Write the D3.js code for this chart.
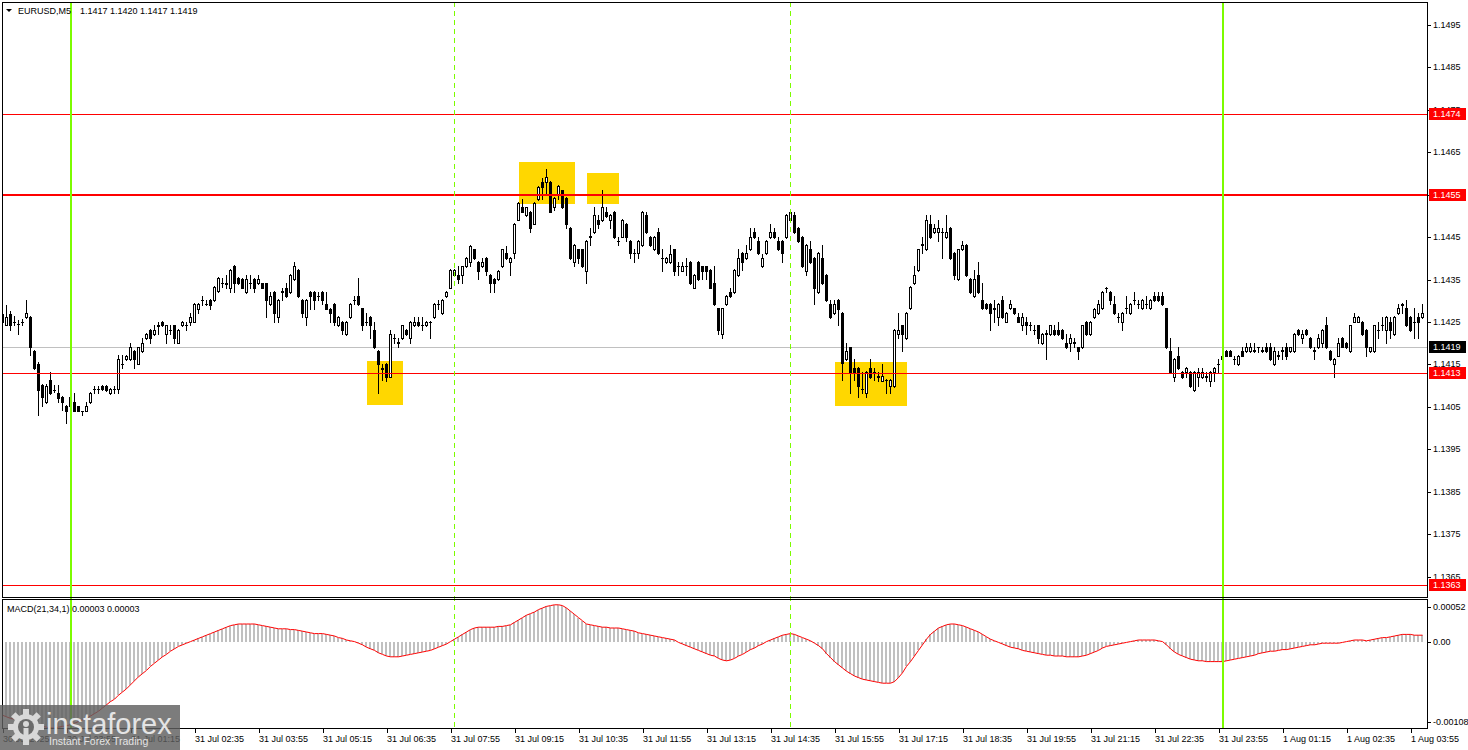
<!DOCTYPE html>
<html><head><meta charset="utf-8">
<title>EURUSD M5</title>
<script src="https://cdn.jsdelivr.net/npm/d3@7"></script>
<style>
html,body{margin:0;padding:0;background:#fff;}
svg{display:block;font-family:"Liberation Sans",Arial,sans-serif;}
</style></head><body>
<svg id="c" width="1468" height="750"></svg>
<script>
// ---------------- DATA ----------------
const symbolTitle = "EURUSD,M5";
const titleValues = "1.1417 1.1420 1.1417 1.1419";
const macdTitle = "MACD(21,34,1) 0.00003 0.00003";

const opens = [1.14270,1.14242,1.14270,1.14251,1.14246,1.14251,1.14261,1.14261,1.14182,1.14151,
1.14102,1.14061,1.14114,1.14090,1.14082,1.14073,1.14052,1.14051,1.14061,1.14051,
1.14040,1.14041,1.14061,1.14092,1.14092,1.14100,1.14100,1.14082,1.14092,1.14092,
1.14151,1.14162,1.14162,1.14182,1.14151,1.14182,1.14212,1.14231,1.14222,1.14242,
1.14251,1.14222,1.14231,1.14242,1.14201,1.14242,1.14242,1.14251,1.14251,1.14281,
1.14302,1.14292,1.14302,1.14302,1.14322,1.14341,1.14341,1.14331,1.14382,1.14353,
1.14351,1.14320,1.14341,1.14351,1.14341,1.14341,1.14341,1.14292,1.14320,1.14261,
1.14322,1.14331,1.14320,1.14351,1.14373,1.14302,1.14261,1.14320,1.14320,1.14311,
1.14320,1.14292,1.14281,1.14292,1.14242,1.14251,1.14222,1.14261,1.14302,1.14311,
1.14282,1.14251,1.14261,1.14231,1.14182,1.14141,1.14151,1.14121,1.14212,1.14201,
1.14212,1.14231,1.14212,1.14242,1.14251,1.14242,1.14242,1.14251,1.14261,1.14292,
1.14271,1.14311,1.14331,1.14361,1.14361,1.14361,1.14381,1.14391,1.14421,1.14391,
1.14381,1.14400,1.14361,1.14351,1.14351,1.14381,1.14412,1.14391,1.14412,1.14491,
1.14520,1.14502,1.14510,1.14481,1.14539,1.14581,1.14581,1.14581,1.14520,1.14549,
1.14560,1.14542,1.14471,1.14391,1.14421,1.14421,1.14371,1.14451,1.14462,1.14491,
1.14491,1.14510,1.14491,1.14510,1.14441,1.14451,1.14481,1.14441,1.14412,1.14412,
1.14432,1.14502,1.14451,1.14421,1.14462,1.14400,1.14391,1.14391,1.14421,1.14381,
1.14371,1.14381,1.14391,1.14331,1.14391,1.14381,1.14381,1.14373,1.14341,1.14282,
1.14222,1.14292,1.14320,1.14320,1.14361,1.14412,1.14400,1.14421,1.14462,1.14441,
1.14381,1.14412,1.14451,1.14462,1.14441,1.14441,1.14451,1.14491,1.14502,1.14471,
1.14451,1.14371,1.14421,1.14400,1.14320,1.14400,1.14361,1.14292,1.14271,1.14302,
1.14271,1.14162,1.14190,1.14141,1.14141,1.14092,1.14082,1.14141,1.14132,1.14121,
1.14112,1.14114,1.14100,1.14100,1.14222,1.14242,1.14212,1.14282,1.14341,1.14373,
1.14432,1.14421,1.14481,1.14462,1.14462,1.14462,1.14451,1.14471,1.14412,1.14351,
1.14421,1.14432,1.14351,1.14311,1.14361,1.14302,1.14292,1.14292,1.14282,1.14261,
1.14302,1.14251,1.14282,1.14282,1.14261,1.14242,1.14251,1.14242,1.14231,1.14242,
1.14201,1.14222,1.14222,1.14231,1.14231,1.14231,1.14201,1.14201,1.14201,1.14190,
1.14190,1.14251,1.14222,1.14261,1.14271,1.14282,1.14330,1.14320,1.14292,1.14261,
1.14251,1.14282,1.14271,1.14302,1.14292,1.14282,1.14292,1.14282,1.14311,1.14311,
1.14311,1.14282,1.14182,1.14121,1.14171,1.14132,1.14132,1.14132,1.14090,1.14121,
1.14121,1.14121,1.14112,1.14132,1.14151,1.14162,1.14182,1.14182,1.14162,1.14151,
1.14182,1.14182,1.14182,1.14182,1.14190,1.14182,1.14190,1.14190,1.14151,1.14171,
1.14182,1.14190,1.14182,1.14182,1.14231,1.14212,1.14231,1.14212,1.14182,1.14190,
1.14201,1.14242,1.14182,1.14151,1.14171,1.14212,1.14201,1.14182,1.14251,1.14251,
1.14251,1.14231,1.14182,1.14182,1.14231,1.14242,1.14231,1.14251,1.14222,1.14271,
1.14292,1.14282,1.14261,1.14251,1.14261,1.14261];

const highs = [1.14285,1.14290,1.14275,1.14263,1.14255,1.14257,1.14302,1.14263,1.14185,1.14155,
1.14105,1.14103,1.14132,1.14102,1.14102,1.14075,1.14055,1.14075,1.14082,1.14052,
1.14040,1.14061,1.14084,1.14100,1.14100,1.14101,1.14101,1.14094,1.14100,1.14172,
1.14172,1.14173,1.14201,1.14185,1.14192,1.14212,1.14224,1.14233,1.14242,1.14251,
1.14253,1.14244,1.14242,1.14244,1.14233,1.14253,1.14251,1.14271,1.14294,1.14294,
1.14311,1.14302,1.14304,1.14335,1.14355,1.14353,1.14361,1.14375,1.14384,1.14355,
1.14353,1.14361,1.14361,1.14353,1.14361,1.14343,1.14343,1.14320,1.14322,1.14304,
1.14331,1.14341,1.14363,1.14391,1.14375,1.14304,1.14304,1.14322,1.14322,1.14320,
1.14322,1.14320,1.14283,1.14294,1.14263,1.14253,1.14253,1.14294,1.14311,1.14353,
1.14284,1.14271,1.14263,1.14251,1.14184,1.14151,1.14153,1.14231,1.14222,1.14212,
1.14244,1.14233,1.14253,1.14261,1.14261,1.14261,1.14253,1.14253,1.14294,1.14302,
1.14304,1.14322,1.14375,1.14375,1.14381,1.14383,1.14402,1.14432,1.14423,1.14393,
1.14400,1.14402,1.14363,1.14353,1.14373,1.14423,1.14430,1.14402,1.14483,1.14532,
1.14539,1.14522,1.14512,1.14532,1.14571,1.14589,1.14610,1.14583,1.14544,1.14573,
1.14562,1.14544,1.14473,1.14434,1.14423,1.14423,1.14443,1.14471,1.14520,1.14502,
1.14560,1.14520,1.14504,1.14512,1.14451,1.14493,1.14483,1.14443,1.14421,1.14443,
1.14512,1.14510,1.14453,1.14453,1.14471,1.14421,1.14402,1.14432,1.14423,1.14391,
1.14391,1.14400,1.14393,1.14363,1.14393,1.14383,1.14383,1.14375,1.14381,1.14284,
1.14284,1.14313,1.14331,1.14375,1.14421,1.14414,1.14432,1.14471,1.14471,1.14451,
1.14410,1.14443,1.14481,1.14471,1.14451,1.14443,1.14504,1.14512,1.14510,1.14473,
1.14453,1.14434,1.14441,1.14402,1.14414,1.14432,1.14363,1.14302,1.14302,1.14304,
1.14273,1.14201,1.14192,1.14162,1.14143,1.14132,1.14134,1.14162,1.14141,1.14132,
1.14151,1.14115,1.14116,1.14233,1.14271,1.14244,1.14273,1.14335,1.14381,1.14423,
1.14451,1.14502,1.14502,1.14481,1.14491,1.14471,1.14502,1.14473,1.14414,1.14423,
1.14441,1.14434,1.14353,1.14373,1.14391,1.14341,1.14294,1.14294,1.14302,1.14294,
1.14311,1.14273,1.14302,1.14284,1.14271,1.14271,1.14261,1.14251,1.14242,1.14244,
1.14224,1.14231,1.14244,1.14242,1.14251,1.14233,1.14222,1.14222,1.14212,1.14192,
1.14244,1.14253,1.14253,1.14283,1.14302,1.14322,1.14332,1.14322,1.14311,1.14271,
1.14273,1.14311,1.14294,1.14320,1.14302,1.14304,1.14311,1.14304,1.14320,1.14320,
1.14320,1.14284,1.14212,1.14164,1.14190,1.14134,1.14143,1.14134,1.14134,1.14141,
1.14141,1.14132,1.14134,1.14143,1.14162,1.14182,1.14184,1.14184,1.14171,1.14173,
1.14190,1.14201,1.14201,1.14201,1.14191,1.14190,1.14201,1.14201,1.14190,1.14182,
1.14190,1.14201,1.14192,1.14224,1.14233,1.14231,1.14233,1.14214,1.14190,1.14222,
1.14233,1.14261,1.14184,1.14164,1.14212,1.14214,1.14203,1.14244,1.14271,1.14263,
1.14253,1.14233,1.14192,1.14244,1.14251,1.14261,1.14263,1.14261,1.14263,1.14292,
1.14294,1.14302,1.14263,1.14282,1.14271,1.14292];

const lows = [1.14195,1.14242,1.14230,1.14243,1.14222,1.14242,1.14260,1.14172,1.14140,1.14031,
1.14052,1.14060,1.14080,1.14085,1.14062,1.14043,1.14011,1.14045,1.14040,1.14040,
1.14030,1.14040,1.14060,1.14082,1.14082,1.14090,1.14088,1.14080,1.14082,1.14082,
1.14141,1.14160,1.14160,1.14141,1.14150,1.14180,1.14210,1.14201,1.14220,1.14222,
1.14240,1.14201,1.14222,1.14201,1.14200,1.14240,1.14231,1.14242,1.14250,1.14271,
1.14290,1.14290,1.14281,1.14300,1.14320,1.14333,1.14330,1.14320,1.14320,1.14340,
1.14330,1.14319,1.14331,1.14320,1.14340,1.14330,1.14261,1.14290,1.14251,1.14251,
1.14302,1.14310,1.14319,1.14350,1.14310,1.14261,1.14242,1.14281,1.14281,1.14302,
1.14292,1.14280,1.14251,1.14242,1.14240,1.14222,1.14220,1.14260,1.14292,1.14290,
1.14231,1.14242,1.14212,1.14189,1.14082,1.14114,1.14112,1.14120,1.14201,1.14190,
1.14210,1.14220,1.14201,1.14240,1.14240,1.14231,1.14240,1.14212,1.14260,1.14281,
1.14270,1.14310,1.14330,1.14360,1.14341,1.14341,1.14380,1.14381,1.14399,1.14351,
1.14380,1.14361,1.14320,1.14320,1.14350,1.14380,1.14399,1.14361,1.14400,1.14490,
1.14508,1.14500,1.14462,1.14480,1.14537,1.14539,1.14550,1.14509,1.14515,1.14539,
1.14518,1.14471,1.14399,1.14381,1.14390,1.14379,1.14341,1.14432,1.14460,1.14471,
1.14489,1.14498,1.14471,1.14449,1.14432,1.14450,1.14441,1.14400,1.14391,1.14400,
1.14430,1.14460,1.14430,1.14420,1.14410,1.14371,1.14389,1.14389,1.14361,1.14361,
1.14369,1.14361,1.14339,1.14329,1.14349,1.14351,1.14351,1.14329,1.14290,1.14222,
1.14212,1.14290,1.14309,1.14318,1.14359,1.14373,1.14398,1.14419,1.14449,1.14410,
1.14379,1.14410,1.14449,1.14449,1.14419,1.14391,1.14449,1.14489,1.14460,1.14439,
1.14379,1.14361,1.14389,1.14292,1.14318,1.14339,1.14300,1.14259,1.14269,1.14242,
1.14114,1.14160,1.14082,1.14114,1.14073,1.14082,1.14073,1.14119,1.14114,1.14112,
1.14110,1.14082,1.14082,1.14098,1.14212,1.14182,1.14210,1.14280,1.14339,1.14371,
1.14412,1.14419,1.14449,1.14460,1.14441,1.14400,1.14449,1.14398,1.14351,1.14349,
1.14419,1.14359,1.14318,1.14309,1.14318,1.14280,1.14280,1.14231,1.14251,1.14242,
1.14259,1.14249,1.14280,1.14269,1.14249,1.14231,1.14222,1.14231,1.14222,1.14201,
1.14199,1.14162,1.14220,1.14220,1.14220,1.14210,1.14189,1.14182,1.14190,1.14162,
1.14188,1.14220,1.14220,1.14259,1.14269,1.14280,1.14320,1.14292,1.14269,1.14251,
1.14231,1.14271,1.14269,1.14292,1.14282,1.14280,1.14282,1.14280,1.14300,1.14300,
1.14290,1.14188,1.14130,1.14112,1.14139,1.14119,1.14121,1.14098,1.14088,1.14100,
1.14119,1.14112,1.14100,1.14112,1.14132,1.14160,1.14169,1.14169,1.14151,1.14149,
1.14169,1.14180,1.14180,1.14180,1.14180,1.14180,1.14180,1.14160,1.14149,1.14162,
1.14162,1.14162,1.14180,1.14180,1.14220,1.14201,1.14220,1.14188,1.14162,1.14188,
1.14190,1.14188,1.14160,1.14121,1.14169,1.14190,1.14188,1.14180,1.14249,1.14249,
1.14220,1.14171,1.14180,1.14180,1.14212,1.14231,1.14201,1.14212,1.14220,1.14269,
1.14271,1.14240,1.14229,1.14212,1.14212,1.14259];

const closes = [1.14251,1.14261,1.14242,1.14250,1.14245,1.14250,1.14271,1.14190,1.14141,1.14090,
1.14073,1.14100,1.14082,1.14089,1.14070,1.14061,1.14041,1.14073,1.14041,1.14041,
1.14040,1.14051,1.14082,1.14091,1.14093,1.14092,1.14090,1.14092,1.14093,1.14162,
1.14150,1.14171,1.14190,1.14162,1.14190,1.14201,1.14222,1.14212,1.14231,1.14241,
1.14242,1.14242,1.14232,1.14212,1.14231,1.14251,1.14243,1.14261,1.14292,1.14292,
1.14303,1.14293,1.14290,1.14333,1.14353,1.14342,1.14340,1.14373,1.14341,1.14341,
1.14331,1.14351,1.14342,1.14331,1.14351,1.14331,1.14302,1.14311,1.14271,1.14302,
1.14321,1.14311,1.14361,1.14381,1.14311,1.14271,1.14302,1.14311,1.14302,1.14312,
1.14302,1.14281,1.14271,1.14251,1.14261,1.14231,1.14251,1.14292,1.14301,1.14292,
1.14242,1.14250,1.14242,1.14190,1.14151,1.14140,1.14121,1.14222,1.14213,1.14202,
1.14242,1.14222,1.14251,1.14251,1.14242,1.14243,1.14251,1.14250,1.14292,1.14293,
1.14302,1.14320,1.14373,1.14373,1.14351,1.14381,1.14400,1.14430,1.14400,1.14371,
1.14391,1.14371,1.14341,1.14341,1.14371,1.14421,1.14400,1.14400,1.14481,1.14530,
1.14510,1.14520,1.14471,1.14530,1.14569,1.14569,1.14591,1.14510,1.14542,1.14571,
1.14520,1.14481,1.14400,1.14432,1.14400,1.14381,1.14441,1.14452,1.14502,1.14481,
1.14520,1.14500,1.14502,1.14451,1.14442,1.14491,1.14451,1.14412,1.14413,1.14441,
1.14510,1.14462,1.14432,1.14451,1.14412,1.14401,1.14400,1.14410,1.14371,1.14382,
1.14381,1.14382,1.14341,1.14361,1.14351,1.14371,1.14371,1.14331,1.14292,1.14231,
1.14282,1.14311,1.14311,1.14373,1.14400,1.14391,1.14412,1.14451,1.14451,1.14412,
1.14400,1.14441,1.14462,1.14451,1.14421,1.14412,1.14502,1.14510,1.14462,1.14441,
1.14381,1.14432,1.14391,1.14331,1.14412,1.14341,1.14302,1.14261,1.14292,1.14281,
1.14153,1.14182,1.14132,1.14132,1.14100,1.14093,1.14132,1.14121,1.14133,1.14122,
1.14122,1.14113,1.14114,1.14231,1.14231,1.14222,1.14271,1.14333,1.14361,1.14421,
1.14433,1.14491,1.14451,1.14471,1.14471,1.14463,1.14462,1.14400,1.14361,1.14421,
1.14432,1.14361,1.14320,1.14351,1.14320,1.14282,1.14282,1.14271,1.14281,1.14292,
1.14261,1.14271,1.14292,1.14271,1.14251,1.14261,1.14242,1.14243,1.14232,1.14212,
1.14222,1.14223,1.14242,1.14222,1.14222,1.14212,1.14190,1.14212,1.14202,1.14182,
1.14242,1.14222,1.14251,1.14281,1.14292,1.14320,1.14331,1.14302,1.14271,1.14262,
1.14271,1.14283,1.14292,1.14303,1.14293,1.14302,1.14293,1.14302,1.14302,1.14302,
1.14292,1.14190,1.14132,1.14162,1.14141,1.14121,1.14141,1.14100,1.14132,1.14132,
1.14132,1.14122,1.14132,1.14141,1.14152,1.14171,1.14171,1.14171,1.14163,1.14171,
1.14171,1.14190,1.14190,1.14183,1.14190,1.14183,1.14182,1.14162,1.14182,1.14172,
1.14183,1.14171,1.14190,1.14222,1.14222,1.14222,1.14222,1.14190,1.14183,1.14212,
1.14231,1.14190,1.14162,1.14162,1.14201,1.14192,1.14190,1.14242,1.14261,1.14261,
1.14222,1.14190,1.14190,1.14242,1.14232,1.14243,1.14261,1.14231,1.14261,1.14282,
1.14291,1.14242,1.14231,1.14250,1.14251,1.14271];

const macdValues = [-92e-5,-94e-5,-96e-5,-97e-5,-98e-5,-99e-5,-100e-5,-101e-5,-103e-5,-105e-5,
-106e-5,-107e-5,-108e-5,-108e-5,-107e-5,-106e-5,-105e-5,-104e-5,-102e-5,-100e-5,
-98e-5,-96e-5,-93e-5,-90e-5,-87e-5,-83e-5,-79e-5,-75e-5,-72e-5,-67e-5,
-63e-5,-59e-5,-54e-5,-49e-5,-44e-5,-40e-5,-36e-5,-31e-5,-27e-5,-23e-5,
-19e-5,-16e-5,-12e-5,-9e-5,-6e-5,-4e-5,-2e-5,0,2e-5,4e-5,
6e-5,8e-5,10e-5,12e-5,14e-5,16e-5,18e-5,20e-5,21e-5,22e-5,
22e-5,22e-5,22e-5,22e-5,21e-5,20e-5,19e-5,18e-5,17e-5,16e-5,
16e-5,16e-5,15e-5,15e-5,14e-5,13e-5,12e-5,11e-5,10e-5,10e-5,
10e-5,9e-5,8e-5,7e-5,5e-5,4e-5,2e-5,1e-5,0,-2e-5,
-4e-5,-7e-5,-9e-5,-11e-5,-14e-5,-16e-5,-18e-5,-19e-5,-19e-5,-19e-5,
-18e-5,-17e-5,-16e-5,-15e-5,-14e-5,-13e-5,-12e-5,-11e-5,-9e-5,-7e-5,
-5e-5,-3e-5,0,3e-5,6e-5,9e-5,12e-5,15e-5,17e-5,18e-5,
18e-5,18e-5,18e-5,18e-5,19e-5,19e-5,20e-5,21e-5,24e-5,27e-5,
30e-5,33e-5,35e-5,37e-5,40e-5,42e-5,44e-5,45e-5,46e-5,46e-5,
45e-5,42e-5,38e-5,34e-5,30e-5,26e-5,22e-5,21e-5,20e-5,19e-5,
18e-5,18e-5,17e-5,17e-5,17e-5,16e-5,15e-5,14e-5,13e-5,11e-5,
10e-5,9e-5,8e-5,7e-5,6e-5,5e-5,4e-5,3e-5,2e-5,-1e-5,
-3e-5,-5e-5,-7e-5,-9e-5,-11e-5,-13e-5,-15e-5,-17e-5,-18e-5,-21e-5,
-23e-5,-24e-5,-23e-5,-21e-5,-18e-5,-16e-5,-13e-5,-10e-5,-8e-5,-5e-5,
-3e-5,0,2e-5,4e-5,6e-5,8e-5,9e-5,10e-5,9e-5,7e-5,
5e-5,3e-5,1e-5,-2e-5,-5e-5,-9e-5,-15e-5,-20e-5,-25e-5,-29e-5,
-33e-5,-37e-5,-40e-5,-43e-5,-45e-5,-47e-5,-48e-5,-49e-5,-50e-5,-51e-5,
-52e-5,-52e-5,-52e-5,-50e-5,-45e-5,-39e-5,-31e-5,-25e-5,-18e-5,-11e-5,
-4e-5,3e-5,9e-5,13e-5,17e-5,19e-5,21e-5,22e-5,22e-5,21e-5,
20e-5,18e-5,16e-5,14e-5,12e-5,9e-5,6e-5,3e-5,1e-5,-1e-5,
-3e-5,-5e-5,-7e-5,-8e-5,-9e-5,-11e-5,-12e-5,-13e-5,-14e-5,-15e-5,
-16e-5,-17e-5,-17e-5,-18e-5,-18e-5,-18e-5,-19e-5,-19e-5,-19e-5,-19e-5,
-18e-5,-17e-5,-15e-5,-13e-5,-11e-5,-8e-5,-6e-5,-5e-5,-4e-5,-3e-5,
-2e-5,-1e-5,0,1e-5,2e-5,2e-5,2e-5,2e-5,2e-5,1e-5,
0,-4e-5,-9e-5,-13e-5,-16e-5,-18e-5,-20e-5,-22e-5,-23e-5,-24e-5,
-24e-5,-25e-5,-25e-5,-25e-5,-25e-5,-25e-5,-24e-5,-23e-5,-22e-5,-21e-5,
-20e-5,-19e-5,-18e-5,-17e-5,-15e-5,-14e-5,-13e-5,-12e-5,-12e-5,-11e-5,
-10e-5,-10e-5,-9e-5,-8e-5,-7e-5,-6e-5,-5e-5,-4e-5,-4e-5,-3e-5,
-2e-5,-2e-5,-2e-5,-2e-5,-2e-5,-1e-5,0,1e-5,2e-5,2e-5,
2e-5,1e-5,2e-5,3e-5,4e-5,5e-5,5e-5,6e-5,7e-5,8e-5,
9e-5,9e-5,9e-5,8e-5,8e-5,8e-5];

const xTickLabels = ["30 Jul 2025","30 Jul 23:55","31 Jul 01:15","31 Jul 02:35","31 Jul 03:55",
"31 Jul 05:15","31 Jul 06:35","31 Jul 07:55","31 Jul 09:15","31 Jul 10:35","31 Jul 11:55",
"31 Jul 13:15","31 Jul 14:35","31 Jul 15:55","31 Jul 17:15","31 Jul 18:35","31 Jul 19:55",
"31 Jul 21:15","31 Jul 22:35","31 Jul 23:55","1 Aug 01:15","1 Aug 02:35","1 Aug 03:55"];
const barsPerLabel = 16;

const priceTicks = [1.1365,1.1375,1.1385,1.1395,1.1405,1.1415,1.1425,1.1435,1.1445,1.1455,1.1465,1.1475,1.1485,1.1495];
const levelPrices = [1.1474, 1.1455, 1.1413, 1.1363];
const currentPrice = 1.1419;
const macdTicks = [0.00052, 0, -0.00108];

const dayBreakBars = [17, 305];      // solid green
const sessionBars = [113, 197];      // dashed green

const zoneStartBar = [91, 129, 146, 208];
const zoneEndBar   = [100, 143, 154, 226];
const zoneTop      = [1.14158, 1.14627, 1.14601, 1.14156];
const zoneBottom   = [1.14054, 1.14528, 1.14528, 1.14052];

// ---------------- DRAW ----------------
const svg = d3.select("#c");
const PL = 2, PR = 1427, PT = 2, PB = 597, MT = 599, MB = 728;

const x = d3.scaleLinear().domain([0, opens.length - 1]).range([3, 1423]);
const y = d3.scaleLinear().domain([1.13602, 1.15004]).range([PB, PT]);
const ym = d3.scaleLinear().domain([-0.00108, 0.00052]).range([MB, 600]);

const defs = svg.append("defs");
defs.append("clipPath").attr("id","clipMain").append("rect")
  .attr("x", PL+1).attr("y", PT+1).attr("width", PR-PL-1).attr("height", PB-PT-1);
defs.append("clipPath").attr("id","clipMacd").append("rect")
  .attr("x", PL+1).attr("y", MT+1).attr("width", PR-PL-1).attr("height", MB-MT-1);

const main = svg.append("g").attr("clip-path","url(#clipMain)");
const macdG = svg.append("g").attr("clip-path","url(#clipMacd)");

// zones
main.selectAll("rect.zone").data(zoneStartBar).join("rect").attr("class","zone")
  .attr("x", (d,i) => Math.round(x(d)))
  .attr("y", (d,i) => Math.round(y(zoneTop[i])))
  .attr("width", (d,i) => Math.round(x(zoneEndBar[i]) - x(d)))
  .attr("height", (d,i) => Math.round(y(zoneBottom[i]) - y(zoneTop[i])))
  .attr("fill", "#FFD700");

// current price line
main.append("line").attr("x1", PL).attr("x2", PR)
  .attr("y1", Math.round(y(currentPrice)) + 0.5).attr("y2", Math.round(y(currentPrice)) + 0.5)
  .attr("stroke", "#C0C0C0").attr("stroke-width", 1);

// candles
const idx = d3.range(opens.length);
const cg = main.append("g").attr("shape-rendering","crispEdges");
idx.forEach(i => {
  const cx = Math.round(x(i));
  const yh = Math.round(y(highs[i])), yl = Math.round(y(lows[i]));
  const yo = Math.round(y(opens[i])), yc = Math.round(y(closes[i]));
  cg.append("rect").attr("x", cx-1).attr("y", yh).attr("width", 1).attr("height", Math.max(1, yl-yh+1)).attr("fill","#000");
  const top = Math.min(yo, yc), h = Math.abs(yo - yc) + 1;
  cg.append("rect").attr("x", cx-2).attr("y", top).attr("width", 3).attr("height", h).attr("fill","#000");
  if (closes[i] > opens[i] && h >= 3) {
    cg.append("rect").attr("x", cx-1).attr("y", top+1).attr("width", 1).attr("height", h-2).attr("fill","#fff");
  }
});

// horizontal levels
levelPrices.forEach((p, i) => {
  const yy = Math.round(y(p));
  const w = (p === 1.1455) ? 2 : 1;
  main.append("line").attr("x1", PL).attr("x2", PR)
    .attr("y1", w === 2 ? yy : yy + 0.5).attr("y2", w === 2 ? yy : yy + 0.5)
    .attr("stroke", "#FF0000").attr("stroke-width", w);
});

// MACD histogram
macdG.append("g").attr("shape-rendering","crispEdges")
  .selectAll("rect").data(idx).join("rect")
  .attr("x", i => Math.round(x(i)) - 2)
  .attr("width", 2)
  .attr("y", i => Math.min(ym(0), ym(macdValues[i])))
  .attr("height", i => Math.abs(ym(macdValues[i]) - ym(0)))
  .attr("fill", "#C0C0C0");
macdG.append("path")
  .attr("d", d3.line().x(i => Math.round(x(i)) - 0.5).y(i => ym(macdValues[i]))(idx))
  .attr("fill","none").attr("stroke","#FF0000").attr("stroke-width",1);

// vertical lines (both panels)
const vg = svg.append("g");
dayBreakBars.forEach(b => {
  const xx = Math.round(x(b));
  vg.append("line").attr("x1", xx).attr("x2", xx).attr("y1", PT).attr("y2", MB)
    .attr("stroke", "#7CFC00").attr("stroke-width", 2);
});
sessionBars.forEach(b => {
  const xx = Math.round(x(b)) - 0.5;
  vg.append("line").attr("x1", xx).attr("x2", xx).attr("y1", PT).attr("y2", MB)
    .attr("stroke", "#7CFC00").attr("stroke-width", 1).attr("stroke-dasharray", "5,4");
});

// frames
const fg = svg.append("g").attr("shape-rendering","crispEdges").attr("fill","none").attr("stroke","#000");
fg.append("rect").attr("x", PL+0.5).attr("y", PT+0.5).attr("width", PR-PL).attr("height", PB-PT);
fg.append("rect").attr("x", PL+0.5).attr("y", MT+0.5).attr("width", PR-PL).attr("height", MB-MT);

// right price axis
const ax = svg.append("g").attr("font-size", "9px").attr("fill", "#000");
priceTicks.forEach(p => {
  const yy = Math.round(y(p));
  ax.append("line").attr("x1", PR).attr("x2", PR+4).attr("y1", yy+0.5).attr("y2", yy+0.5).attr("stroke","#000");
  ax.append("text").attr("x", PR+6).attr("y", yy).attr("dy","0.35em").text(p.toFixed(4));
});
// level labels
levelPrices.forEach(p => {
  const yy = Math.round(y(p));
  ax.append("rect").attr("x", PR+2).attr("y", yy-6).attr("width", 37).attr("height", 12).attr("fill","#FF0000");
  ax.append("text").attr("x", PR+6).attr("y", yy).attr("dy","0.35em").attr("fill","#fff").text(p.toFixed(4));
});
{
  const yy = Math.round(y(currentPrice));
  ax.append("rect").attr("x", PR+2).attr("y", yy-6).attr("width", 37).attr("height", 12).attr("fill","#000");
  ax.append("text").attr("x", PR+6).attr("y", yy).attr("dy","0.35em").attr("fill","#fff").text(currentPrice.toFixed(4));
}
// MACD axis labels
macdTicks.forEach((v, i) => {
  let yy = Math.round(ym(v));
  if (i === 0) yy += 7;
  if (i === 2) yy -= 6;
  ax.append("line").attr("x1", PR).attr("x2", PR+4).attr("y1", yy+0.5).attr("y2", yy+0.5).attr("stroke","#000");
  ax.append("text").attr("x", PR+6).attr("y", yy).attr("dy","0.35em")
    .text(v === 0 ? "0.00" : v.toFixed(5));
});

// time axis
const tx = svg.append("g").attr("font-size","9px").attr("fill","#000");
xTickLabels.forEach((lab, k) => {
  const xx = Math.round(x(k * barsPerLabel));
  tx.append("line").attr("x1", xx+0.5).attr("x2", xx+0.5).attr("y1", MB).attr("y2", MB+5).attr("stroke","#000");
  tx.append("text").attr("x", xx).attr("y", 742).text(lab);
});

// titles
svg.append("path").attr("d","M6,9 L12,9 L9,12 Z").attr("fill","#000");
svg.append("text").attr("x", 18).attr("y", 14).attr("font-size","9px").text(symbolTitle);
svg.append("text").attr("x", 80).attr("y", 14).attr("font-size","9px").text(titleValues);
svg.append("text").attr("x", 7).attr("y", 612).attr("font-size","9px").text(macdTitle);

// logo
const logo = svg.append("g");
logo.append("rect").attr("x",0).attr("y",705).attr("width",180).attr("height",45).attr("fill","#5f5f5f").attr("opacity",0.82);
const gear = logo.append("g").attr("transform","translate(26,727)").attr("fill","#d8d8d8");
d3.range(8).forEach(k => {
  gear.append("rect").attr("x",-3).attr("y",-18).attr("width",6).attr("height",7)
    .attr("transform",`rotate(${k*45})`);
});
gear.append("circle").attr("r",13);
gear.append("circle").attr("r",8).attr("fill","#6a6a6a");
gear.append("circle").attr("cy",-3).attr("r",3).attr("fill","#d8d8d8");
gear.append("rect").attr("x",-2.5).attr("y",1).attr("width",5).attr("height",9).attr("fill","#d8d8d8");
logo.append("text").attr("x",46).attr("y",734).attr("font-size","29px").attr("fill","#e4e4e4").text("instaforex");
logo.append("text").attr("x",49).attr("y",745).attr("font-size","10.5px").attr("fill","#e4e4e4").text("Instant Forex Trading");
</script>
</body></html>
